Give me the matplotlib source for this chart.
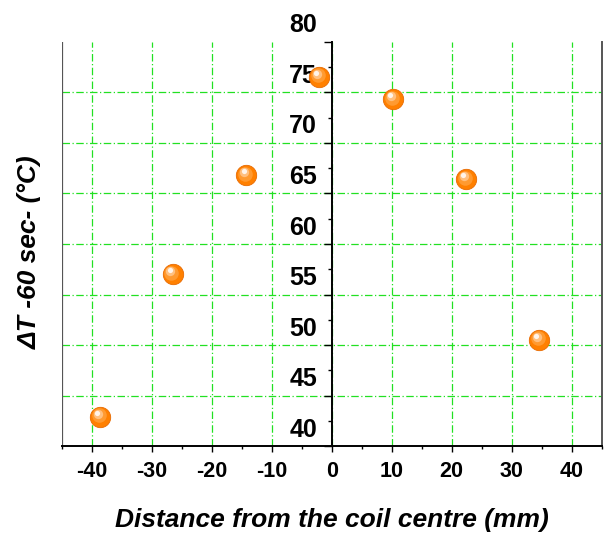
import matplotlib
matplotlib.use("Agg")
import matplotlib.pyplot as plt
from matplotlib import transforms
from matplotlib.ticker import MultipleLocator

# temperature rise after 60 s vs. position along the coil
distance_mm = [-38.6, -26.5, -14.2, -2.1, 10.2, 22.4, 34.6]
delta_t = [42.9, 57.0, 66.8, 76.5, 74.3, 66.4, 50.5]

x_ticks = [-40, -30, -20, -10, 0, 10, 20, 30, 40]
y_ticks = [40, 45, 50, 55, 60, 65, 70, 75, 80]

plt.rcParams["font.family"] = ["Liberation Sans", "DejaVu Sans"]
plt.rcParams["axes.unicode_minus"] = False

fig = plt.figure(figsize=(6.05, 5.36), dpi=100)
ax = fig.add_axes([0.102, 0.1673, 0.8925, 0.7549])

ax.set_xlim(-45, 45)
ax.set_ylim(40, 80)

# y axis runs through x = 0
ax.spines["left"].set_position(("data", 0))
ax.spines["left"].set_color("black")
ax.spines["left"].set_linewidth(1.4)
ax.spines["bottom"].set_linewidth(1.4)
ax.spines["top"].set_visible(False)
ax.spines["right"].set_color("#555555")
ax.spines["right"].set_linewidth(1.4)
ax.axvline(-45, color="#555555", linewidth=1.6, zorder=2.5)

ax.set_xticks(x_ticks)
ax.set_yticks(y_ticks)
ax.xaxis.set_minor_locator(MultipleLocator(5))
ax.yaxis.set_minor_locator(MultipleLocator(2.5))

ax.tick_params(axis="y", which="major", direction="out", length=6, width=1.0,
               labelsize=18, pad=4.5)
ax.tick_params(axis="y", which="minor", direction="out", length=3, width=1.0)
ax.tick_params(axis="x", which="major", direction="out", length=4.5, width=1.0,
               labelsize=15.5, pad=6)
ax.tick_params(axis="x", which="minor", direction="out", length=2.5, width=1.0)

for lab in ax.get_xticklabels():
    lab.set_fontweight("bold")
# y labels sit a little above their ticks
shift = transforms.ScaledTranslation(0, 19 / 100, fig.dpi_scale_trans)
for lab in ax.get_yticklabels():
    lab.set_fontweight("bold")
    lab.set_transform(lab.get_transform() + shift)

grid_style = dict(color="#22e022", linewidth=0.9, linestyle=(0, (6, 2, 1, 2)),
                  zorder=0)
for xv in x_ticks:
    ax.axvline(xv, **grid_style)
for yv in y_ticks[1:-1]:
    ax.axhline(yv, **grid_style)

# shaded sphere markers
ax.scatter(distance_mm, delta_t, s=215, color="#ff8000",
           edgecolors="#e86a00", linewidths=0.6, zorder=4)
layers = [(110, "#ff9a30", -0.9, 1.2), (45, "#ffc080", -1.7, 2.3),
          (14, "#fff4ea", -2.1, 2.8)]
for size, col, dx, dy in layers:
    tr = transforms.offset_copy(ax.transData, fig=fig, x=dx, y=dy, units="points")
    ax.scatter(distance_mm, delta_t, s=size, color=col, linewidths=0,
               transform=tr, zorder=5)

fig.text(0.549, 0.017, "Distance from the coil centre (mm)", ha="center",
         va="baseline", fontsize=19, fontweight="bold", fontstyle="italic")
fig.text(0.05, 0.53, "ΔT -60 sec- (°C)", ha="center", va="center",
         rotation=90, fontsize=19, fontweight="bold", fontstyle="italic")

fig.savefig("out.png", dpi=100)
